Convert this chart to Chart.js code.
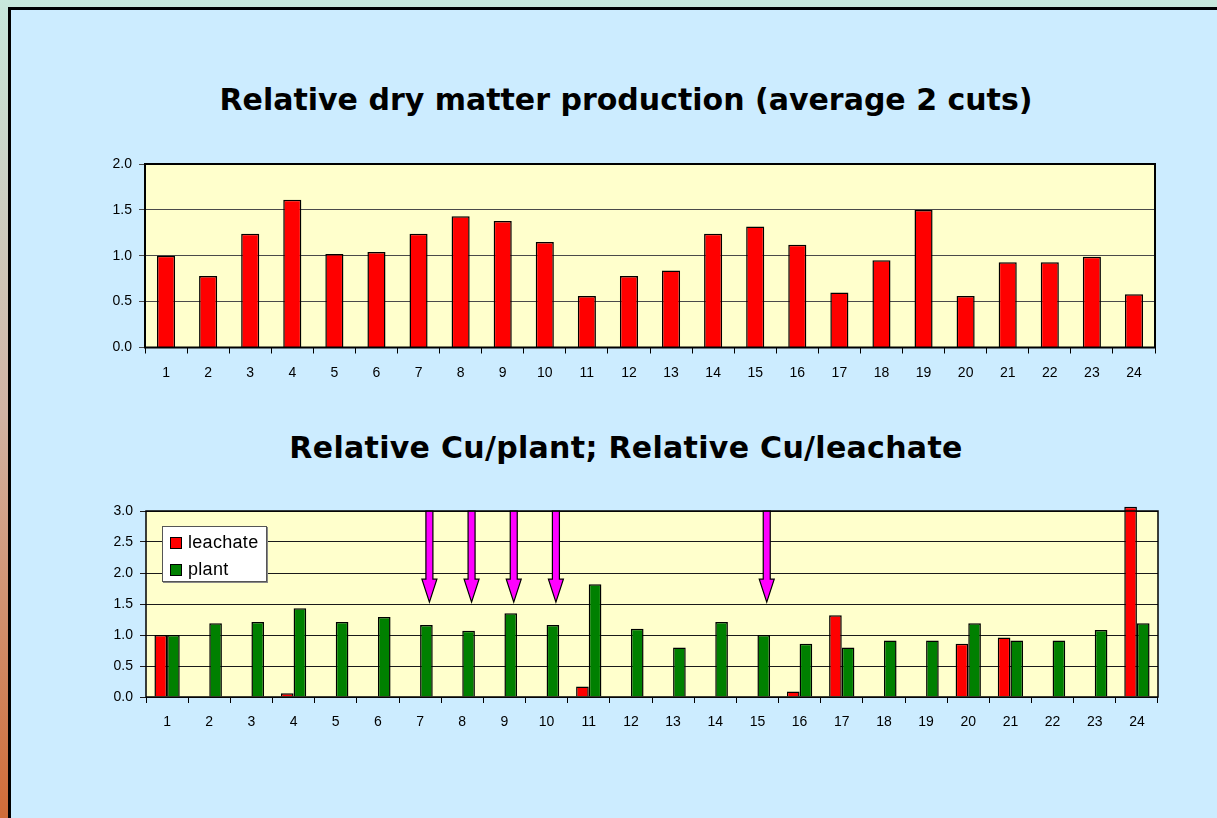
<!DOCTYPE html>
<html>
<head>
<meta charset="utf-8">
<title>Relative dry matter production</title>
<script src="https://cdn.jsdelivr.net/npm/chart.js@4.4.1/dist/chart.umd.min.js"></script>
<style>
    html, body {
        margin: 0;
        padding: 0;
    }
    body {
        width: 1217px;
        height: 818px;
        overflow: hidden;
        position: relative;
        background: linear-gradient(to bottom, #c8e8dc 0%, #d2b4a4 50%, #d06c38 100%);
    }
    #frame {
        position: absolute;
        left: 8px;
        top: 7px;
        width: 1220px;
        height: 820px;
        border: 3px solid #000;
        background: #ccecff;
    }
    .titulo {
        position: absolute;
        left: 0;
        width: 1252px;
        text-align: center;
        font-family: "DejaVu Sans", Verdana, sans-serif;
        font-weight: bold;
        font-size: 30px;
        color: #000;
        white-space: nowrap;
    }
    canvas {
        position: absolute;
        left: 0;
    }
    #legenda {
        position: absolute;
        left: 162px;
        top: 526px;
        width: 103px;
        height: 54px;
        background: #fff;
        border: 1px solid #555;
        box-shadow: 1px 1px 0 #888;
        font-family: "Liberation Sans", Arial, sans-serif;
        font-size: 18px;
        letter-spacing: 0.3px;
        color: #000;
    }
    #legenda .item {
        position: absolute;
        left: 7px;
        height: 20px;
        line-height: 20px;
        white-space: nowrap;
    }
    #legenda .cor {
        display: inline-block;
        width: 10px;
        height: 10px;
        border: 1px solid #000;
        margin-right: 6px;
        vertical-align: -1px;
    }
</style>
</head>
<body>
<div id="frame"></div>
<div class="titulo" style="top: 82px;">Relative dry matter production (average 2 cuts)</div>
<canvas id="graficoMateriaSeca" width="1217" height="240" style="top: 140px;"></canvas>
<div class="titulo" style="top: 430px; letter-spacing: 0.3px;">Relative Cu/plant; Relative Cu/leachate</div>
<canvas id="graficoCobre" width="1217" height="240" style="top: 490px;"></canvas>
<div id="legenda"></div>

<script>
// Dados
const categorias = ['1', '2', '3', '4', '5', '6', '7', '8', '9', '10', '11', '12',
    '13', '14', '15', '16', '17', '18', '19', '20', '21', '22', '23', '24'];

const materiaSeca = [1.00, 0.78, 1.24, 1.61, 1.02, 1.04, 1.24, 1.43, 1.38, 1.15, 0.56, 0.78,
    0.84, 1.24, 1.32, 1.12, 0.60, 0.95, 1.50, 0.56, 0.93, 0.93, 0.99, 0.58];

const cobreLixiviado = [1.00, null, null, 0.06, null, null, null, null, null, null, 0.17, null,
    null, null, null, 0.09, 1.32, null, null, 0.86, 0.96, null, null, 3.07];

const cobrePlanta = [1.00, 1.19, 1.21, 1.43, 1.21, 1.29, 1.16, 1.07, 1.35, 1.16, 1.82, 1.10,
    0.80, 1.21, 1.00, 0.86, 0.80, 0.91, 0.91, 1.19, 0.91, 0.91, 1.08, 1.19];

const ticksMateriaSeca = [0, 0.5, 1.0, 1.5, 2.0];
const ticksCobre = [0, 0.5, 1.0, 1.5, 2.0, 2.5, 3.0];

// Setas em magenta sobre as barras da planta
const setasCategorias = ['7', '8', '9', '10', '15'];
const setasPonta = 1.53;

Chart.defaults.font.family = '"Liberation Sans", Arial, sans-serif';
Chart.defaults.font.size = 14;
Chart.defaults.color = '#000';

// Fundo amarelo e borda da área de plotagem
const areaPlotagem = {
    id: 'areaPlotagem',
    beforeDraw(chart, args, opts) {
        const a = chart.chartArea;
        const ctx = chart.ctx;
        ctx.save();
        ctx.fillStyle = '#ffffcc';
        ctx.fillRect(a.left, a.top, a.right - a.left, a.bottom - a.top);
        ctx.restore();
    },
    afterDraw(chart, args, opts) {
        const a = chart.chartArea;
        const ctx = chart.ctx;
        ctx.save();
        ctx.strokeStyle = '#000';
        ctx.lineWidth = opts.largura || 2;
        ctx.strokeRect(a.left, a.top, a.right - a.left, a.bottom - a.top);
        ctx.restore();
    }
};

// Setas desenhadas a partir das escalas do gráfico
const setas = {
    id: 'setas',
    afterDatasetsDraw(chart) {
        const meta = chart.getDatasetMeta(1);
        const yScale = chart.scales.y;
        const ctx = chart.ctx;
        const topo = chart.chartArea.top;
        const ponta = yScale.getPixelForValue(setasPonta);
        ctx.save();
        setasCategorias.forEach(cat => {
            const idx = categorias.indexOf(cat);
            const x = meta.data[idx].x + 3;
            const haste = 3.5;
            const cabeca = 7.5;
            const inicioCabeca = ponta - 23;
            ctx.beginPath();
            ctx.moveTo(x - haste, topo);
            ctx.lineTo(x + haste, topo);
            ctx.lineTo(x + haste, inicioCabeca);
            ctx.lineTo(x + cabeca, inicioCabeca);
            ctx.lineTo(x, ponta);
            ctx.lineTo(x - cabeca, inicioCabeca);
            ctx.lineTo(x - haste, inicioCabeca);
            ctx.closePath();
            ctx.fillStyle = '#ff00ff';
            ctx.fill();
            ctx.strokeStyle = '#000';
            ctx.lineWidth = 1.2;
            ctx.stroke();
        });
        ctx.restore();
    }
};

function escalas(maximo, valoresTicks, corGrade) {
    return {
        x: {
            grid: {
                offset: true,
                drawOnChartArea: false,
                drawTicks: true,
                tickLength: 6,
                color: '#000'
            },
            border: { display: false },
            ticks: {
                padding: 11,
                maxRotation: 0,
                autoSkip: false
            },
            afterFit: function(scale) {
                scale.height = 30;
            }
        },
        y: {
            min: 0,
            max: maximo,
            afterBuildTicks: function(scale) {
                scale.ticks = valoresTicks.map(v => ({ value: v }));
            },
            grid: {
                color: corGrade,
                lineWidth: 1,
                tickLength: 6
            },
            border: { display: false },
            ticks: {
                padding: 7,
                callback: function(value) {
                    return Number(value).toFixed(1);
                }
            },
            afterFit: function(scale) {
                scale.width = 60;
            }
        }
    };
}

// Gráfico de matéria seca
function criarGraficoMateriaSeca() {
    const ctx = document.getElementById('graficoMateriaSeca').getContext('2d');
    return new Chart(ctx, {
        type: 'bar',
        data: {
            labels: categorias,
            datasets: [{
                label: 'dry matter',
                data: materiaSeca,
                backgroundColor: '#ff0000',
                borderColor: '#000',
                borderWidth: 1.5,
                categoryPercentage: 0.43,
                barPercentage: 1
            }]
        },
        options: {
            responsive: false,
            animation: false,
            devicePixelRatio: 1,
            layout: {
                padding: { left: 85, right: 62, top: 24, bottom: 2.5 }
            },
            scales: escalas(2, ticksMateriaSeca, '#4a4a4a'),
            plugins: {
                legend: { display: false },
                title: { display: false },
                tooltip: { enabled: false },
                areaPlotagem: { largura: 2 }
            }
        },
        plugins: [areaPlotagem]
    });
}

// Gráfico de cobre (planta e lixiviado)
function criarGraficoCobre() {
    const ctx = document.getElementById('graficoCobre').getContext('2d');
    return new Chart(ctx, {
        type: 'bar',
        data: {
            labels: categorias,
            datasets: [{
                label: 'leachate',
                data: cobreLixiviado,
                backgroundColor: '#ff0000',
                borderColor: '#000',
                borderWidth: 1.5,
                categoryPercentage: 0.6,
                barPercentage: 1,
                clip: false
            }, {
                label: 'plant',
                data: cobrePlanta,
                backgroundColor: '#008000',
                borderColor: '#000',
                borderWidth: 1.5,
                categoryPercentage: 0.6,
                barPercentage: 1
            }]
        },
        options: {
            responsive: false,
            animation: false,
            devicePixelRatio: 1,
            layout: {
                padding: { left: 86, right: 59, top: 21, bottom: 3 }
            },
            scales: escalas(3, ticksCobre, '#1a1a1a'),
            plugins: {
                legend: { display: false },
                title: { display: false },
                tooltip: { enabled: false },
                areaPlotagem: { largura: 1.5 }
            }
        },
        plugins: [areaPlotagem, setas]
    });
}

// Legenda em HTML montada a partir dos datasets
function montarLegenda(chart) {
    const container = document.getElementById('legenda');
    container.innerHTML = '';
    chart.data.datasets.forEach((ds, i) => {
        const item = document.createElement('div');
        item.className = 'item';
        item.style.top = (5 + i * 27) + 'px';
        item.innerHTML = `<span class="cor" style="background:${ds.backgroundColor}"></span>${ds.label}`;
        container.appendChild(item);
    });
}

criarGraficoMateriaSeca();
const graficoCobre = criarGraficoCobre();
montarLegenda(graficoCobre);
</script>
</body>
</html>
